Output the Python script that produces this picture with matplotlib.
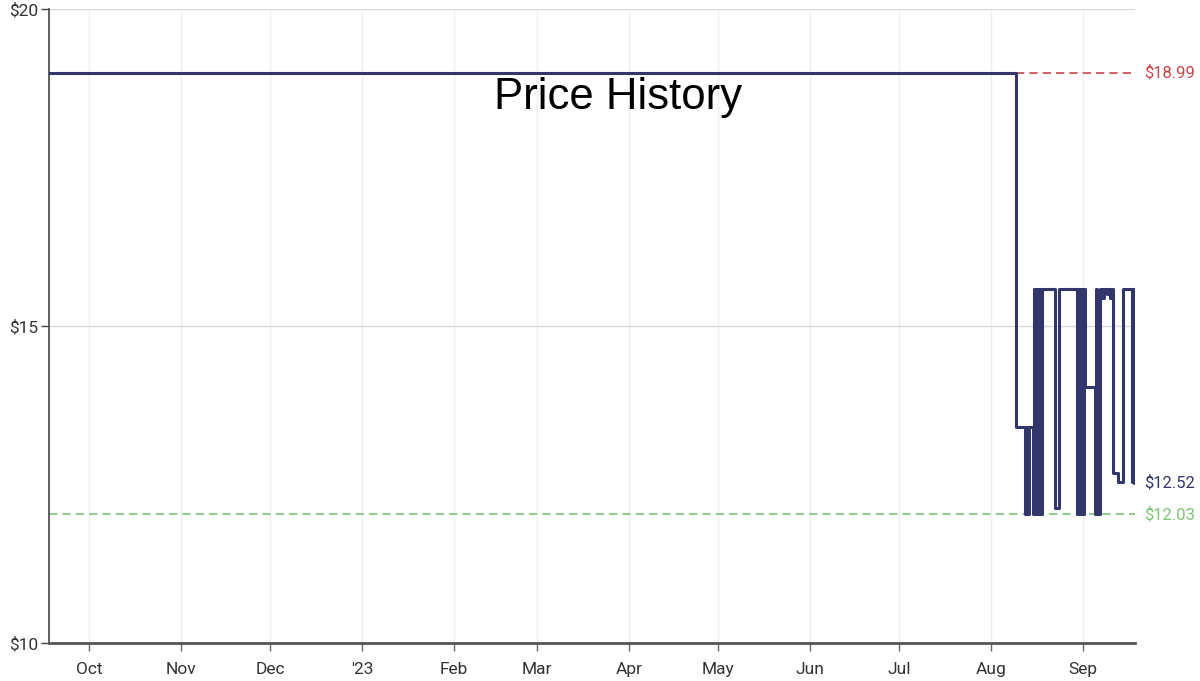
import matplotlib
matplotlib.use("Agg")
import matplotlib.pyplot as plt
import datetime as dt

plt.rcParams['font.family'] = ['Roboto', 'DejaVu Sans']

# price steps (timestamp, price)
times = [
    "2022-09-17 00:00", "2023-08-09 10:00", "2023-08-12 12:00", "2023-08-13 04:00",
    "2023-08-13 10:00", "2023-08-13 18:00", "2023-08-15 04:00", "2023-08-15 10:00",
    "2023-08-15 16:00", "2023-08-16 00:00", "2023-08-16 12:00", "2023-08-17 00:00",
    "2023-08-17 08:00", "2023-08-17 16:00", "2023-08-17 22:00", "2023-08-18 04:00",
    "2023-08-22 14:00", "2023-08-23 22:00",
    "2023-08-30 00:00", "2023-08-30 06:00", "2023-08-30 14:00", "2023-08-31 00:00",
    "2023-08-31 06:00", "2023-08-31 14:00", "2023-09-01 00:00", "2023-09-01 08:00",
    "2023-09-01 16:00", "2023-09-05 00:00", "2023-09-05 08:00", "2023-09-05 16:00",
    "2023-09-06 00:00", "2023-09-06 12:00", "2023-09-06 18:00", "2023-09-07 12:00",
    "2023-09-08 00:00", "2023-09-09 00:00", "2023-09-09 12:00", "2023-09-10 00:00",
    "2023-09-10 12:00", "2023-09-11 00:00", "2023-09-12 18:00", "2023-09-14 12:00",
    "2023-09-17 12:00", "2023-09-17 20:00", "2023-09-18 06:00", "2023-09-18 12:00",
]
prices = [
    18.99, 13.40, 12.03, 13.40,
    12.03, 13.40, 12.03, 15.58,
    12.03, 15.58, 12.03, 15.58,
    12.03, 15.58, 12.03, 15.58,
    12.13, 15.58,
    12.03, 15.58, 12.03, 15.58,
    12.03, 15.58, 12.03, 15.58,
    14.04, 12.03, 15.58, 12.03,
    15.44, 12.03, 15.58, 15.44,
    15.58, 15.50, 15.58, 15.44,
    15.58, 12.68, 12.54, 15.58,
    12.54, 15.58, 12.52, 12.52,
]

highest = 18.99
lowest = 12.03
current = 12.52
high_from = "2023-08-09 10:00"

month_ticks = ["2022-10-01", "2022-11-01", "2022-12-01", "2023-01-01", "2023-02-01",
               "2023-03-01", "2023-04-01", "2023-05-01", "2023-06-01", "2023-07-01",
               "2023-08-01", "2023-09-01"]
month_labels = ["Oct", "Nov", "Dec", "'23", "Feb", "Mar", "Apr", "May", "Jun", "Jul", "Aug", "Sep"]
y_ticks = [10, 15, 20]
y_labels = ["$10", "$15", "$20"]

x = [dt.datetime.strptime(t, "%Y-%m-%d %H:%M") for t in times]
xmin = dt.datetime(2022, 9, 17, 12)
xmax = dt.datetime(2023, 9, 18, 12)

fig = plt.figure(figsize=(12, 6.81), dpi=100)
ax = fig.add_axes([49 / 1200, 1 - 643 / 681, (1135 - 49) / 1200, (643 - 9) / 681])

navy = "#33366b"
red = "#c8454b"
green = "#7cc576"

ax.plot(x, prices, drawstyle="steps-post", color=navy, lw=2.2, zorder=3)

hx = dt.datetime.strptime(high_from, "%Y-%m-%d %H:%M")
ax.plot([hx, xmax], [highest, highest], color=red, lw=1.2, ls=(0, (5, 3)), zorder=2)
ax.plot([xmin, xmax], [lowest, lowest], color=green, lw=1.2, ls=(0, (5, 3)), zorder=2)

ax.set_xlim(xmin, xmax)
ax.set_ylim(10, 20)

tick_dates = [dt.datetime.strptime(d, "%Y-%m-%d") for d in month_ticks]
ax.set_xticks(tick_dates)
ax.set_xticklabels(month_labels)
ax.set_yticks(y_ticks)
ax.set_yticklabels(y_labels)

ax.grid(axis="x", color="#efefef", lw=1)
ax.grid(axis="y", color="#dadada", lw=1)
ax.set_axisbelow(True)

for s in ["top", "right"]:
    ax.spines[s].set_visible(False)
ax.spines["left"].set_color("#444444")
ax.spines["left"].set_linewidth(1.2)
ax.spines["bottom"].set_color("#555555")
ax.spines["bottom"].set_linewidth(2)
ax.tick_params(axis="x", length=6, width=1, color="#666666", labelsize=12.5, labelcolor="#333333", pad=8)
ax.tick_params(axis="y", length=6, width=1, color="#444444", labelsize=12.5, labelcolor="#333333", pad=2)

for val, col in [(highest, red), (current, navy), (lowest, green)]:
    ax.text(1.008, val, "$%.2f" % val, transform=ax.get_yaxis_transform(),
            color=col, fontsize=12, va="center", ha="left")

fig.text(618 / 1200, 1 - 97 / 681, "Price History", family="Liberation Sans",
         fontsize=31.5, ha="center", va="center", color="black")

fig.savefig("out.png", dpi=100)
